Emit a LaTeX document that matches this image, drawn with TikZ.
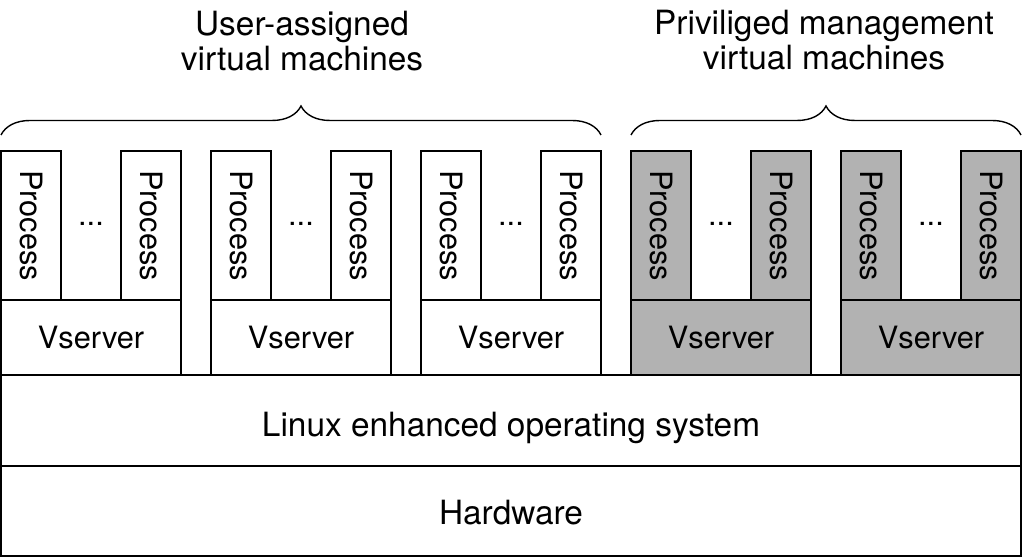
\documentclass[tikz,border=0pt]{standalone}
\usepackage{fontspec}
\setmainfont{TeX Gyre Heros}
\usetikzlibrary{decorations.pathreplacing}
\definecolor{privgray}{gray}{0.7}

\begin{document}
\begin{tikzpicture}[x=0.2mm,y=0.2mm,
    box/.style={draw,line width=1.1pt,inner sep=0pt,outer sep=0pt,anchor=south west,font=\fontsize{17.5}{20}\selectfont},
    proc/.style={box,minimum width=12mm,minimum height=29.8mm},
    vsrv/.style={box,minimum width=36mm,minimum height=15mm},
    layer/.style={box,minimum width=204mm,text depth=0pt,font=\fontsize{19}{20}\selectfont},
    etc/.style={font=\fontsize{17.5}{20}\selectfont},
    title/.style={align=center,anchor=north,font=\fontsize{19}{20}\selectfont},
    group/.style={decorate,decoration={brace,amplitude=5.8mm},line width=0.8pt}]
  \useasboundingbox (0,0) rectangle (1022,557);
  \node[layer,minimum height=18mm,text height=5.6mm] (hw) at (1,1) {Hardware};
  \node[layer,minimum height=18.2mm,text height=6.6mm] (os) at (1,91) {Linux enhanced operating system};
  \foreach \i/\x/\c in {1/1/white,2/211/white,3/421/white,4/631/privgray,5/841/privgray} {
    \node[vsrv,fill=\c] (vs\i) at (\x,182) {Vserver};
    \node[proc,fill=\c] (pa\i) at (\x,257) {\rotatebox{-90}{Process}};
    \node[proc,fill=\c] (pb\i) at (\x+120,257) {\rotatebox{-90}{Process}};
    \node[etc] (dots\i) at (\x+90,333) {...};
  }
  \draw[group] (1,422) -- (601,422);
  \draw[group] (631,422) -- (1021,422);
  \node[title] (user) at (302,552) {User-assigned\\virtual machines};
  \node[title] (priv) at (824,553) {Priviliged management\\virtual machines};
\end{tikzpicture}
\end{document}
